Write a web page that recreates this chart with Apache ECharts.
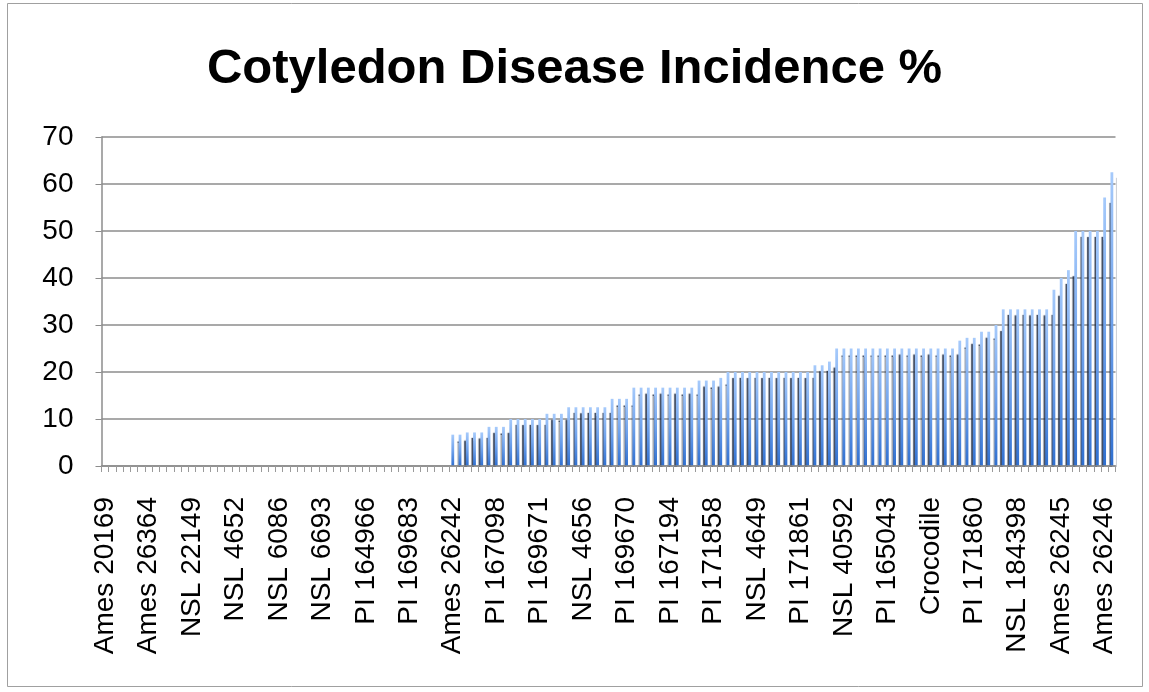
<!DOCTYPE html>
<html><head><meta charset="utf-8">
<script src="https://cdn.jsdelivr.net/npm/echarts@6/dist/echarts.min.js"></script>
<style>html,body{margin:0;padding:0;background:#fff}#c{width:1149px;height:692px}</style>
</head><body><div id="c"></div>
<script>
const chartTitle = 'Cotyledon Disease Incidence %';
// labels shown on every 6th category (index 0, 6, 12, ...)
const tickLabels = ['Ames 20169','Ames 26364','NSL 22149','NSL 4652','NSL 6086','NSL 6693','PI 164966','PI 169683',
  'Ames 26242','PI 167098','PI 169671','NSL 4656','PI 169670','PI 167194','PI 171858','NSL 4649','PI 171861',
  'NSL 40592','PI 165043','Crocodile','PI 171860','NSL 184398','Ames 26245','Ames 26246'];
const labelEvery = 6;
const yTicks = [0, 10, 20, 30, 40, 50, 60, 70];
// disease incidence % for the 140 accessions, in sorted order
const incidence = [
  0,0,0,0,0,0,0,0,0,0, 0,0,0,0,0,0,0,0,0,0, 0,0,0,0,0,0,0,0,0,0, 0,0,0,0,0,0,0,0,0,0, 0,0,0,0,0,0,0,0,
  6.67,6.67, 7.14,7.14,7.14, 8.33,8.33,8.33, 10,10,10,10,10, 11.11,11.11,11.11,
  12.5,12.5,12.5,12.5,12.5,12.5, 14.29,14.29,14.29,
  16.67,16.67,16.67,16.67,16.67,16.67,16.67,16.67,16.67, 18.18,18.18,18.18, 18.75,
  20,20,20,20,20,20,20,20,20,20,20,20, 21.43,21.43, 22.22,
  25,25,25,25,25,25,25,25,25,25,25,25,25,25,25,25,25, 26.67, 27.27,27.27, 28.57,28.57, 30,
  33.33,33.33,33.33,33.33,33.33,33.33,33.33, 37.5, 40, 41.67, 50,50,50,50, 57.14, 62.5
];
const categories = incidence.map((_, i) => i % labelEvery === 0 ? tickLabels[i / labelEvery] : '');

const FONT = '"Liberation Sans", Arial, sans-serif';
const chart = echarts.init(document.getElementById('c'), null, {renderer: 'canvas'});
chart.setOption({
  animation: false,
  backgroundColor: '#ffffff',
  title: {
    text: chartTitle, left: 'center', top: 40,
    textStyle: {fontFamily: FONT, fontWeight: 'bold', fontSize: 49, color: '#000'}
  },
  grid: {left: 101.5, right: 33.5, top: 137, bottom: 226, containLabel: false},
  xAxis: {
    type: 'category', data: categories, boundaryGap: true, z: 10,
    axisLine: {lineStyle: {color: '#8c8c8c', width: 1.5}},
    axisTick: {show: true, interval: 0, length: 6, lineStyle: {color: '#9a9a9a', width: 1}},
    axisLabel: {interval: 0, rotate: 90, margin: 31, fontFamily: FONT, fontSize: 28, color: '#000'}
  },
  yAxis: {
    type: 'value', min: yTicks[0], max: yTicks[yTicks.length - 1], interval: 10,
    axisLine: {show: true, lineStyle: {color: '#8c8c8c', width: 1.5}},
    axisTick: {show: true, length: 6, lineStyle: {color: '#8c8c8c'}},
    splitLine: {lineStyle: {color: '#8c8c8c', width: 1.5}},
    axisLabel: {margin: 28, fontFamily: FONT, fontSize: 28, color: '#000'}
  },
  series: [{
    type: 'bar', data: incidence, barWidth: 2.8,
    itemStyle: {
      color: new echarts.graphic.LinearGradient(0, 0, 0, 1, [
        {offset: 0, color: '#a6cafb'}, {offset: 0.5, color: '#6fa2ec'}, {offset: 1, color: '#2f6fd0'}]),
      shadowColor: 'rgba(28,40,64,0.85)', shadowOffsetX: 5.5, shadowOffsetY: 6, shadowBlur: 1
    }
  }],
  graphic: [
    {type: 'rect', z: 5, shape: {x: 102, y: 467, width: 1016, height: 9}, style: {fill: '#fff'}},
    {type: 'rect', z: 5, shape: {x: 1116.5, y: 130, width: 20, height: 345}, style: {fill: '#fff'}},
    {type: 'rect', z: 20, shape: {x: 7.5, y: 3.5, width: 1135, height: 683}, style: {fill: 'transparent', stroke: '#a0a0a0', lineWidth: 1}}
  ]
});
</script></body></html>
